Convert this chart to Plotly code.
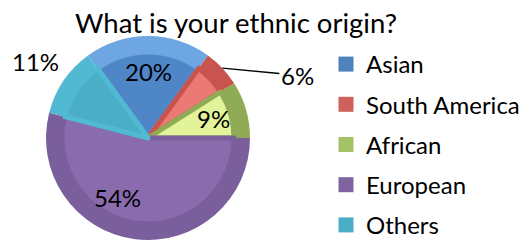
import math
import plotly.graph_objects as go

categories = ["Asian", "South America", "African", "European", "Others"]
values = [20, 6, 9, 54, 11]
face_colors = ["#4f86c8", "#ec7a74", "#e3f39a", "#8a6cae", "#4aaec6"]
band_colors = ["#6ea6e2", "#c8534f", "#8fab55", "#7a5f9c", "#52b9d2"]
legend_colors = ["#4f81bd", "#d0605b", "#a4c266", "#8064a2", "#4bacc6"]

FONT = "Lato"
W, H = 522, 240

# pie geometry in pixels
cx, cy, R = 148, 138, 102
Ri = 86
ROT = -36  # first slice start angle, degrees clockwise from 12 o'clock

# label placement (layout only): radius factor and pixel nudge per slice
label_r = [0.65, 1.0, 0.67, 0.63, 1.33]
label_nudge = [(0, 0), (0, 0), (0, 0), (-22, -4), (0, 0)]
arrow_label = [False, True, False, False, False]


def dom(r):
    return dict(x=[(cx - r) / W, (cx + r) / W], y=[(H - cy - r) / H, (H - cy + r) / H])


fig = go.Figure()

common = dict(labels=categories, values=values, sort=False, direction="clockwise",
              rotation=ROT, showlegend=False, hoverinfo="skip", textinfo="none")

fig.add_trace(go.Pie(**common, domain=dom(R),
                     marker=dict(colors=band_colors, line=dict(width=0))))
fig.add_trace(go.Pie(**common, domain=dom(Ri),
                     marker=dict(colors=face_colors, line=dict(color=band_colors, width=5))))

for name, col in zip(categories, legend_colors):
    fig.add_trace(go.Scatter(x=[None], y=[None], mode="markers", name=name,
                             legendgroup=name, hoverinfo="skip",
                             marker=dict(symbol="square", size=15, color=col)))

# percentage labels, placed from the data's slice angles
total = sum(values)
start = ROT
annotations = []
for v, f, (dx, dy), arr in zip(values, label_r, label_nudge, arrow_label):
    span = 360 * v / total
    mid = math.radians(start + span / 2)
    start += span
    px = cx + f * R * math.sin(mid) + dx
    py = cy - f * R * math.cos(mid) + dy
    a = dict(x=px / W, y=1 - py / H, xref="paper", yref="paper",
             xanchor="center", yanchor="middle",
             text=f"{round(100 * v / total)}%",
             font=dict(family=FONT, size=24, color="black"))
    if arr:
        a.update(showarrow=True, arrowhead=0, arrowwidth=1.3, arrowcolor="black",
                 ax=75, ay=7, standoff=0)
    else:
        a.update(showarrow=False)
    annotations.append(a)

fig.update_layout(
    width=W, height=H,
    margin=dict(l=0, r=0, t=0, b=0, pad=0, autoexpand=False),
    paper_bgcolor="white", plot_bgcolor="white",
    title=dict(text="What is your ethnic origin?", x=236 / W, xanchor="center",
               y=(H - 23) / H, yanchor="middle", yref="container",
               font=dict(family=FONT, size=27.5, color="black")),
    xaxis=dict(visible=False), yaxis=dict(visible=False),
    legend=dict(x=326 / W, y=(H - 42) / H, xanchor="left", yanchor="top",
                font=dict(family=FONT, size=24, color="black"),
                tracegroupgap=6, bgcolor="rgba(0,0,0,0)", borderwidth=0),
    annotations=annotations,
)

# the page's default body margin would offset the figure inside the window
fig.write_html("out.html", config={"displayModeBar": False},
               post_script="document.body.style.margin='0px';")
